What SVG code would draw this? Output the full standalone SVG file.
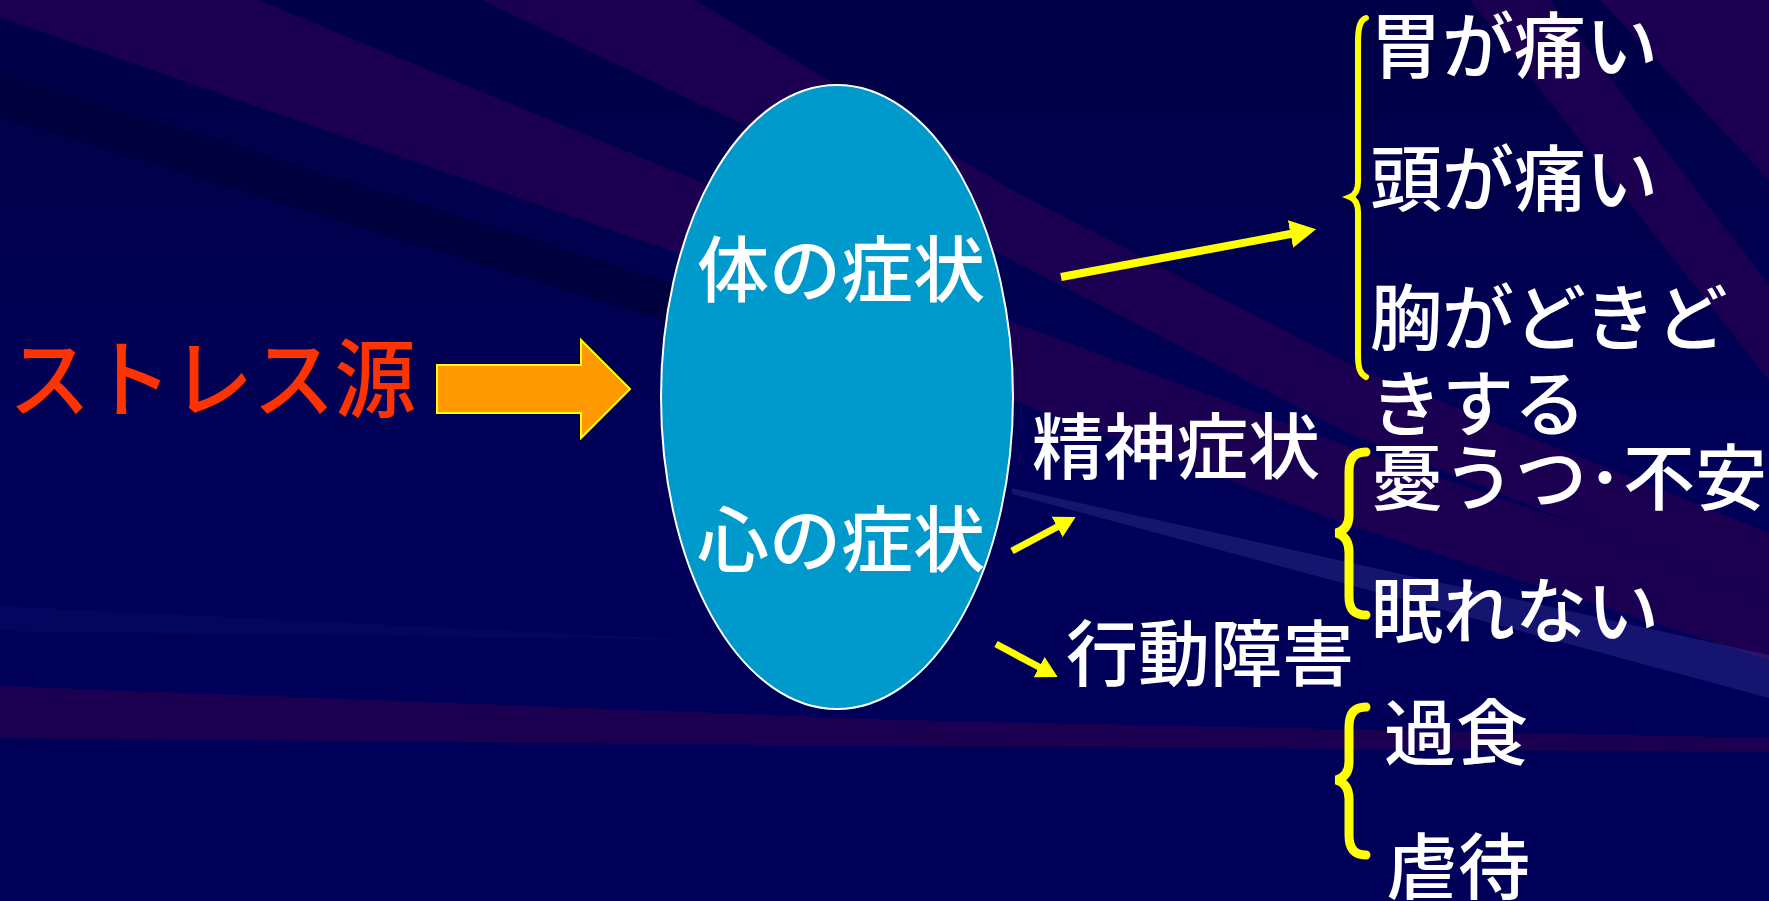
<svg xmlns="http://www.w3.org/2000/svg" width="1769" height="901" viewBox="0 0 1769 901">
  <defs>
    <linearGradient id="bg" x1="0" y1="0" x2="0" y2="1">
      <stop offset="0" stop-color="#000046"/>
      <stop offset="0.5" stop-color="#000058"/>
      <stop offset="1" stop-color="#00005A"/>
    </linearGradient>
    <marker id="headL" markerUnits="userSpaceOnUse" viewBox="0 0 26 28" refX="1" refY="14" markerWidth="26" markerHeight="28" orient="auto">
      <path d="M0,0 L26,14 L0,28 z" fill="#FFFF00"/>
    </marker>
    <marker id="headS" markerUnits="userSpaceOnUse" viewBox="0 0 21 23" refX="1" refY="11.5" markerWidth="21" markerHeight="23" orient="auto">
      <path d="M0,0 L21,11.5 L0,23 z" fill="#FFFF00"/>
    </marker>
  </defs>
  <style>
    .purple { fill: #1B0052; }
    .dark { fill: #00003E; }
    .light { fill: #6A6AD0; fill-opacity: 0.2; }
    .faint { fill: #1A1A80; fill-opacity: 0.2; }
    .txt { font-family: "Noto Sans CJK JP", "Noto Sans CJK SC", sans-serif; fill: #FFFFFF; font-size: 72px; font-weight: 500; }
    .red { font-family: "Noto Sans CJK JP", "Noto Sans CJK SC", sans-serif; fill: #FF3300; font-size: 86px; font-weight: 500; }
    .brace { fill: none; stroke: #FFFF00; stroke-linecap: round; }
    .conn { stroke: #FFFF00; fill: none; }
  </style>

  <g id="background">
    <rect x="0" y="0" width="1769" height="901" fill="url(#bg)"/>
    <polygon class="dark" points="0,72 700,292 680,325 0,117"/>
    <polygon class="faint" points="0,606 700,640 0,631"/>
    <polygon class="purple" points="0,0 258,0 706,184 1012,322 1355,449 1769,590 1769,660 1355,527 1012,400 677,253 0,17"/>
    <polygon class="purple" points="482,0 695,0 838,86 1012,190 1355,367 1769,533 1769,600 1355,436 1012,260 746,126"/>
    <polygon class="purple" points="1470,0 1550,0 1769,285 1769,380"/>
    <polygon class="purple" points="1600,0 1769,0 1769,180"/>
    <polygon class="light" points="1012,488 1769,655 1769,698 1012,494"/>
    <polygon class="purple" points="0,686 900,720 1769,738 1769,752 900,746 0,738"/>
  </g>

  <g id="stress-source">
    <text class="red" x="9" y="411" textLength="407" lengthAdjust="spacingAndGlyphs">ストレス源</text>
  </g>

  <g id="big-arrow">
    <polygon points="437,365 581,365 581,340 630,389 581,438 581,413 437,413" fill="#FF9900" stroke="#FFFF00" stroke-width="2"/>
  </g>

  <g id="symptoms-ellipse">
    <ellipse cx="837" cy="397" rx="176" ry="312" fill="#0099CC" stroke="#FFFFFF" stroke-width="2"/>
    <text class="txt" x="697" y="296">体の症状</text>
    <text class="txt" x="697" y="566">心の症状</text>
  </g>

  <g id="mental">
    <text class="txt" x="1032" y="473">精神症状</text>
  </g>
  <g id="behavior">
    <text class="txt" x="1066" y="680">行動障害</text>
  </g>

  <g id="body-list">
    <path class="brace" stroke-width="6" d="M1366,18 C1360,20 1358,28 1358,42 L1358,182 C1358,191 1355,195 1350,197 C1355,199 1358,203 1358,212 L1358,355 C1358,368 1360,374 1366,377"/>
    <text class="txt" x="1370" y="72">胃が痛い</text>
    <text class="txt" x="1370" y="205">頭が痛い</text>
    <text class="txt" x="1370" y="344">胸がどきど</text>
    <text class="txt" x="1370" y="430">きする</text>
  </g>

  <g id="mental-list">
    <path class="brace" stroke-width="9" d="M1366,452 C1355,452 1349,458 1349,472 L1349,515 C1349,526 1344,531 1336,533 C1344,535 1349,541 1349,552 L1349,597 C1349,610 1355,615 1366,615"/>
    <text class="txt" x="1371" y="504">憂うつ･不安</text>
    <text class="txt" x="1371" y="637">眠れない</text>
  </g>

  <g id="behavior-list">
    <path class="brace" stroke-width="9" d="M1366,707 C1355,707 1349,713 1349,727 L1349,762 C1349,773 1344,778 1336,780 C1344,782 1349,788 1349,799 L1349,835 C1349,849 1355,855 1366,855"/>
    <text class="txt" x="1384" y="759">過食</text>
    <text class="txt" x="1386" y="893">虐待</text>
  </g>

  <g id="connectors">
    <line class="conn" x1="1061" y1="277" x2="1291.5" y2="233.8" stroke-width="8" marker-end="url(#headL)"/>
    <line class="conn" x1="1012" y1="551" x2="1058" y2="526.5" stroke-width="7" marker-end="url(#headS)"/>
    <line class="conn" x1="996" y1="644" x2="1040" y2="667.5" stroke-width="7" marker-end="url(#headS)"/>
  </g>
</svg>
